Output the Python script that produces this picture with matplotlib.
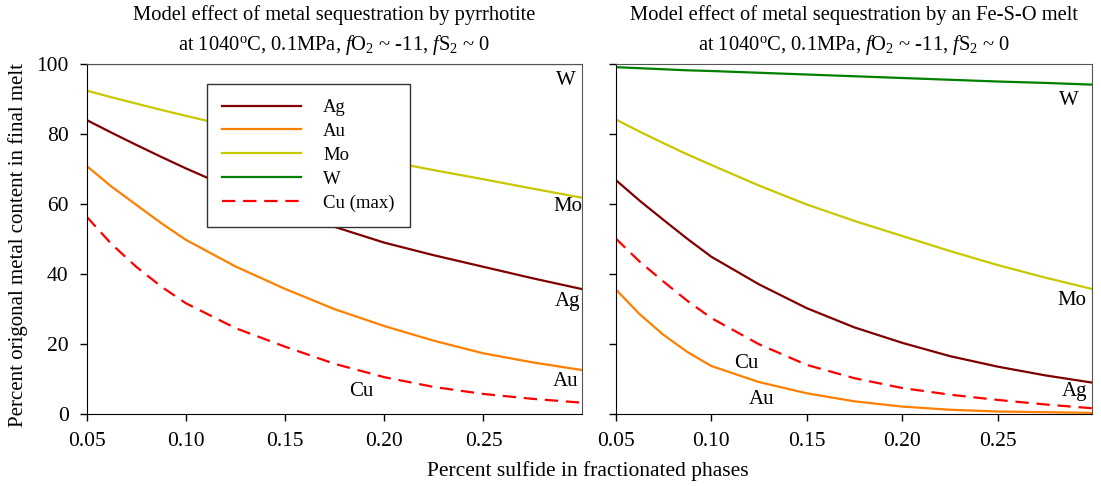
import matplotlib
matplotlib.use("Agg")
import matplotlib.pyplot as plt

# Fonts: Times-like serif everywhere, including mathtext
plt.rcParams['font.family'] = ['Liberation Serif', 'DejaVu Serif']
plt.rcParams['mathtext.fontset'] = 'custom'
plt.rcParams['mathtext.rm'] = 'Liberation Serif'
plt.rcParams['mathtext.it'] = 'Liberation Serif:italic'

# Data
sulfide = [0.05, 0.0625, 0.075, 0.0875, 0.10, 0.125, 0.15, 0.175, 0.20, 0.225, 0.25, 0.275, 0.30]

# pyrrhotite (left)
po_ag = [84.0, 80.4, 76.9, 73.5, 70.2, 64.0, 58.4, 53.5, 49.0, 45.4, 42.1, 38.8, 35.7]
po_au = [70.9, 65.0, 59.8, 54.6, 49.8, 42.2, 35.8, 30.0, 25.2, 21.0, 17.4, 14.8, 12.6]
po_mo = [92.4, 90.5, 88.7, 86.9, 85.2, 81.9, 78.6, 75.4, 72.4, 69.7, 67.1, 64.4, 61.8]
po_w = [100, 100, 100, 100, 100, 100, 100, 100, 100, 100, 100, 100, 100]
po_cu = [56.4, 48.6, 42.1, 36.5, 31.7, 24.6, 19.3, 14.4, 10.6, 7.8, 5.8, 4.4, 3.3]

# Fe-S-O melt (right)
mss_ag = [66.9, 61.0, 55.5, 50.1, 45.0, 37.1, 30.3, 24.8, 20.4, 16.6, 13.6, 11.1, 9.0]
mss_au = [35.7, 28.6, 22.7, 17.8, 13.8, 9.2, 6.0, 3.7, 2.2, 1.3, 0.8, 0.6, 0.4]
mss_mo = [84.2, 80.7, 77.4, 74.2, 71.2, 65.3, 59.9, 55.2, 50.9, 46.6, 42.6, 39.0, 35.7]
mss_w = [99.1, 98.8, 98.5, 98.2, 98.0, 97.5, 97.0, 96.5, 96.0, 95.5, 95.0, 94.6, 94.1]
mss_cu = [50.2, 43.6, 37.9, 32.4, 27.5, 20.0, 14.1, 10.3, 7.5, 5.6, 4.1, 2.8, 1.7]

labels = ["Ag", "Au", "Mo", "W", "Cu (max)"]
colors = ["#800000", "#FF8000", "#C8C800", "#008000", "#FF0000"]

titles = [
    "Model effect of metal sequestration by pyrrhotite\n"
    "at 1040$^{\\rm o}$C, 0.1MPa, $\\it{f}$O$_2$ ~ -11, $\\it{f}$S$_2$ ~ 0",
    "Model effect of metal sequestration by an Fe-S-O melt\n"
    "at 1040$^{\\rm o}$C, 0.1MPa, $\\it{f}$O$_2$ ~ -11, $\\it{f}$S$_2$ ~ 0",
]

# curve end labels (text, x, y) per panel
left_notes = [("W", 0.2916, 95.4), ("Mo", 0.2926, 59.3), ("Ag", 0.2926, 32.1),
              ("Au", 0.2916, 9.3), ("Cu", 0.1883, 6.5)]
right_notes = [("W", 0.2873, 89.7), ("Mo", 0.2887, 32.6), ("Ag", 0.2901, 6.5),
               ("Cu", 0.1186, 14.6), ("Au", 0.1264, 4.1)]

fig = plt.figure(figsize=(11.01, 4.86), dpi=100)
ax1 = fig.add_axes([86.7 / 1101, 1 - 414.3 / 486, 495 / 1101, 350.3 / 486])
ax2 = fig.add_axes([615.7 / 1101, 1 - 414.3 / 486, 476.6 / 1101, 350.3 / 486])

panels = [
    (ax1, [po_ag, po_au, po_mo, po_w, po_cu], left_notes),
    (ax2, [mss_ag, mss_au, mss_mo, mss_w, mss_cu], right_notes),
]

for i, (ax, series, notes) in enumerate(panels):
    for vals, lab, col in zip(series, labels, colors):
        if lab.startswith("Cu"):
            ax.plot(sulfide, vals, color=col, lw=1.6, ls=(0, (6, 3.5)), label=lab)
        else:
            ax.plot(sulfide, vals, color=col, lw=1.6, label=lab)
    for txt, x, y in notes:
        ax.text(x, y, txt, fontsize=15, ha="center", va="center")
    ax.set_xlim(0.05, 0.2995)
    ax.set_ylim(0, 100)
    ax.set_xticks([0.05, 0.10, 0.15, 0.20, 0.25])
    ax.set_xticklabels(["0.05", "0.10", "0.15", "0.20", "0.25"])
    ax.set_yticks([0, 20, 40, 60, 80, 100])
    ax.tick_params(direction="out", length=5, width=1, labelsize=15.5,
                   top=False, right=False, pad=8)
    ax.set_title(titles[i], fontsize=14.8, linespacing=1.45, pad=10)
    for side in ["top", "right"]:
        ax.spines[side].set_color("#555555")

ax2.set_yticklabels([])

leg = ax1.legend(loc="upper left", bbox_to_anchor=(0.243, 0.943), borderaxespad=0,
                 fontsize=13.5, frameon=True, fancybox=False, framealpha=1,
                 handlelength=4.2, handletextpad=1.2, labelspacing=0.36, borderpad=0.8)
leg.get_frame().set_edgecolor("#333333")
leg.get_frame().set_linewidth(1)
leg.set_zorder(5)

fig.text(18 / 1101, 1 - 245 / 486, "Percent origonal metal content in final melt",
         rotation=90, fontsize=15, ha="center", va="center")
fig.text(588 / 1101, 1 - 471 / 486, "Percent sulfide in fractionated phases",
         fontsize=15.5, ha="center", va="center")

fig.savefig("out.png", dpi=100)
